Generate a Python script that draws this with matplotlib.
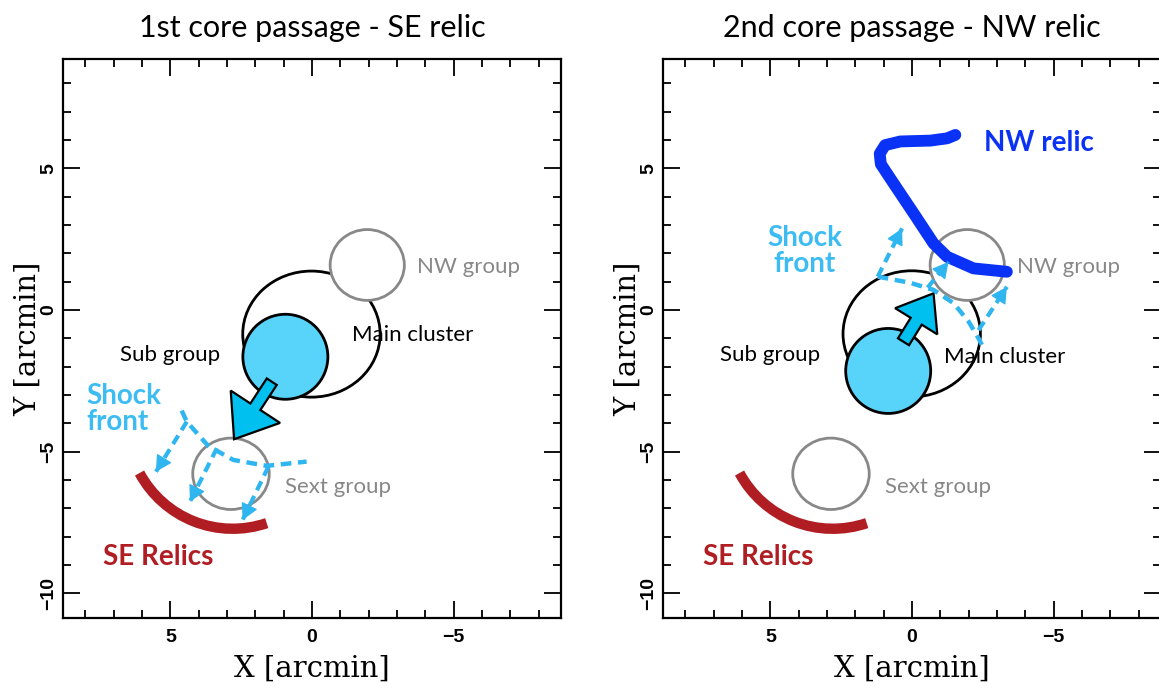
import matplotlib
matplotlib.use('Agg')
import matplotlib.pyplot as plt
from matplotlib.patches import Ellipse, Arc, FancyArrow, FancyArrowPatch
from matplotlib.ticker import MultipleLocator

# axis ranges in arcmin (RA grows to the left)
x_range = [8.79, -8.79]
y_range = [-10.87, 8.86]
x_ticks = [5, 0, -5]
y_ticks = [5, 0, -5, -10]

titles = ['1st core passage - SE relic', '2nd core passage - NW relic']

# components: centre x, centre y, width, height  (one entry per panel)
main_cluster = [(0.02, -0.85, 4.85, 4.45), (0.01, -0.84, 4.85, 4.45)]
sub_group = [(0.94, -1.65, 3.0, 3.0), (0.84, -2.15, 3.0, 3.0)]
nw_group = (-1.95, 1.59, 2.62, 2.50)
sext_group = (2.86, -5.78, 2.70, 2.52)

# infall arrow of the sub group: tail, tip
infall_tail = [(1.42, -2.53), (0.30, -1.12)]
infall_tip = [(2.75, -4.56), (-0.76, 0.59)]

# SE relic arc: centre, radius, start/end angle (deg)
se_relic_center = (2.80, -3.99)
se_relic_radius = 3.73
se_relic_angles = (-108.8, -28.2)

# NW relic trace (2nd passage only)
nw_relic_x = [-3.35, -2.17, -1.24, -0.76, -0.06, 0.65, 1.10, 1.14, 0.95, 0.41, -0.65, -1.24, -1.53]
nw_relic_y = [1.35, 1.47, 1.88, 2.35, 3.41, 4.47, 5.15, 5.52, 5.82, 5.95, 5.98, 6.06, 6.18]

# shock fronts (dashed) and the arrows launched from them
shock_x = [[4.60, 4.42, 3.66, 2.78, 1.60, 0.19],
           [1.21, 0.06, -0.76, -1.47, -2.00, -2.35, -2.53]]
shock_y = [[-3.55, -3.94, -4.80, -5.29, -5.50, -5.35],
           [1.18, 0.96, 0.71, 0.24, -0.41, -1.00, -1.35]]
shock_arrows = [
    [((4.42, -3.94), (5.51, -5.71)), ((3.36, -4.88), (4.31, -6.77)), ((1.54, -5.53), (2.45, -7.41))],
    [((1.21, 1.18), (0.35, 2.88)), ((-0.55, 0.79), (-1.29, 1.70)), ((-2.35, -0.71), (-3.35, 0.82))],
]

# text labels: text, x, y
group_labels = [('Sub group', 6.78, -1.59), ('NW group', -3.70, 1.53), ('Sext group', 0.95, -6.24)]
main_label = [('Main cluster', -1.40, -0.88), ('Main cluster', -1.12, -1.67)]
shock_label = [('Shock\nfront', 7.98, -3.50, 'left'), ('Shock\nfront', 3.80, 2.10, 'center')]
se_label = ('SE Relics', 7.37, -8.71)
nw_label = ('NW relic', -2.53, 5.88)

sub_fill = '#58d4fa'
arrow_fill = '#00c0ef'
shock_col = '#2fb6f0'
grey = '#888888'
red = '#b01e24'
blue = '#0a32f6'
lab_font = 'Lato'

fig = plt.figure(figsize=(11.59, 6.88), dpi=100)
axes = [fig.add_axes([63 / 1159, 70 / 688, 498 / 1159, 559 / 688]),
        fig.add_axes([663 / 1159, 70 / 688, 498 / 1159, 559 / 688])]


def ellipse(ax, comp, ec, fc, z, lw=2.0):
    ax.add_patch(Ellipse(comp[:2], comp[2], comp[3], ec=ec, fc=fc, lw=lw, zorder=z))


def dashed_arrow(ax, start, tip):
    ax.plot([start[0], tip[0]], [start[1], tip[1]], color=shock_col, lw=3.0,
            dashes=(2.4, 1.5), zorder=6)
    # solid head on the last bit of the shaft
    back = (tip[0] - 0.15 * (tip[0] - start[0]), tip[1] - 0.15 * (tip[1] - start[1]))
    ax.add_patch(FancyArrowPatch(back, tip, arrowstyle='-|>,head_length=0.5,head_width=0.27',
                                 mutation_scale=20, color=shock_col, lw=1.0,
                                 shrinkA=0, shrinkB=0, zorder=6))


for i, ax in enumerate(axes):
    ax.set_xlim(x_range)
    ax.set_ylim(y_range)
    ax.set_xticks(x_ticks)
    ax.set_yticks(y_ticks)
    ax.xaxis.set_minor_locator(MultipleLocator(1))
    ax.yaxis.set_minor_locator(MultipleLocator(1))
    ax.tick_params(which='both', direction='in', top=True, right=True, width=1.4, color='#111111')
    ax.tick_params(which='major', length=12)
    ax.tick_params(which='minor', length=6)
    ax.tick_params(axis='x', pad=8)
    ax.tick_params(axis='y', pad=4, labelrotation=90)
    for lab in ax.get_xticklabels() + ax.get_yticklabels():
        lab.set_fontfamily('Liberation Sans')
        lab.set_fontweight('bold')
        lab.set_fontsize(14)
    for lab in ax.get_yticklabels():
        lab.set_va('center')
    for sp in ax.spines.values():
        sp.set_linewidth(1.6)
    ax.set_xlabel('X [arcmin]', family='DejaVu Serif', fontsize=21, labelpad=6)
    ax.set_ylabel('Y [arcmin]', family='DejaVu Serif', fontsize=21, labelpad=-1)
    ax.set_title(titles[i], family=lab_font, fontsize=22, pad=16)

    # cluster components
    ellipse(ax, main_cluster[i], 'black', 'white', 2)
    ellipse(ax, nw_group, grey, 'white', 3)
    ellipse(ax, sext_group, grey, 'none', 3)
    ellipse(ax, sub_group[i], 'black', sub_fill, 4)

    (tx, ty), (hx, hy) = infall_tail[i], infall_tip[i]
    if i == 0:
        aw, hw, hl = 0.42, 2.08, 1.37
    else:
        aw, hw, hl = 0.46, 1.75, 1.16
    ax.add_patch(FancyArrow(tx, ty, hx - tx, hy - ty, width=aw, head_width=hw, head_length=hl,
                            length_includes_head=True, fc=arrow_fill, ec='black', lw=1.6, zorder=5))

    # relics
    ax.add_patch(Arc(se_relic_center, 2 * se_relic_radius, 2 * se_relic_radius,
                     theta1=se_relic_angles[0], theta2=se_relic_angles[1],
                     color=red, lw=7.5, capstyle='butt', zorder=3))
    if i == 1:
        ax.plot(nw_relic_x, nw_relic_y, color=blue, lw=8.5, solid_capstyle='round',
                solid_joinstyle='round', zorder=5)

    # shock fronts
    ax.plot(shock_x[i], shock_y[i], color=shock_col, lw=3.2, dashes=(2.4, 1.5), zorder=6)
    for start, tip in shock_arrows[i]:
        dashed_arrow(ax, start, tip)

    # labels
    for txt, x, y in group_labels:
        col = 'black' if txt == 'Sub group' else grey
        ax.text(x, y, txt, color=col, family=lab_font, fontsize=16, va='center', ha='left', zorder=7)
    txt, x, y = main_label[i]
    ax.text(x, y, txt, color='black', family=lab_font, fontsize=16, va='center', ha='left', zorder=7)
    txt, x, y, al = shock_label[i]
    ax.text(x, y, txt, color='#3dbcf4', family=lab_font, fontsize=20, fontweight='bold',
            va='center', ha=al, multialignment=al, linespacing=1.0, zorder=7)
    ax.text(se_label[1], se_label[2], se_label[0], color=red, family=lab_font, fontsize=20,
            fontweight='bold', va='center', ha='left', zorder=7)
    if i == 1:
        ax.text(nw_label[1], nw_label[2], nw_label[0], color=blue, family=lab_font, fontsize=20,
                fontweight='bold', va='center', ha='left', zorder=7)

fig.savefig('out.png', dpi=100)
